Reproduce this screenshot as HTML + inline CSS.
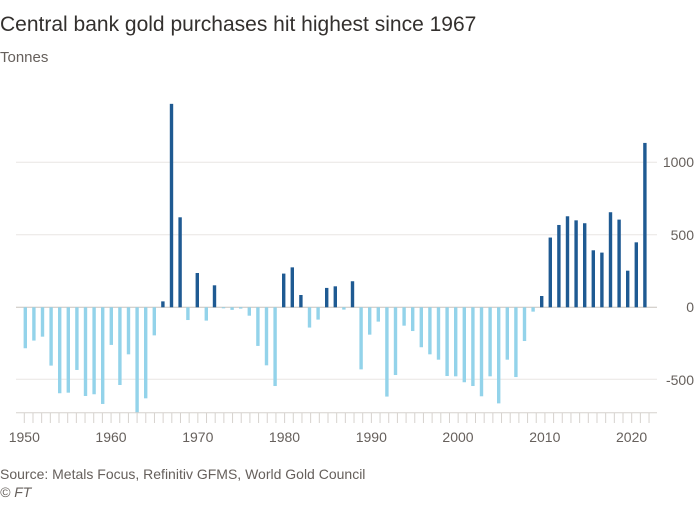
<!DOCTYPE html>
<html><head><meta charset="utf-8"><style>
body{margin:0;background:#fff;width:700px;height:500px;overflow:hidden;font-family:"Liberation Sans",sans-serif}
</style></head><body>
<svg width="700" height="500" xmlns="http://www.w3.org/2000/svg" font-family="Liberation Sans, sans-serif">
<text x="0" y="31" font-size="21" fill="#33302e">Central bank gold purchases hit highest since 1967</text>
<text x="0" y="62" font-size="15" fill="#66605c">Tonnes</text>
<g stroke="#e9e6e3" stroke-width="1">
<line x1="16" x2="657" y1="162.3" y2="162.3"/>
<line x1="16" x2="657" y1="234.7" y2="234.7"/>
<line x1="16" x2="657" y1="379.3" y2="379.3"/>
</g>
<line x1="16" x2="657" y1="307.3" y2="307.3" stroke="#c8c3be" stroke-width="1"/>
<g font-size="14" fill="#66605c" text-anchor="end">
<text x="694" y="167">1000</text>
<text x="694" y="240">500</text>
<text x="694" y="312">0</text>
<text x="694" y="385">-500</text>
</g>
<g fill="#93d3ea">
<rect x="23.6" y="307.3" width="3.4" height="40.95"/>
<rect x="32.2" y="307.3" width="3.4" height="33.28"/>
<rect x="40.8" y="307.3" width="3.4" height="29.37"/>
<rect x="49.4" y="307.3" width="3.4" height="58.31"/>
<rect x="58" y="307.3" width="3.4" height="85.95"/>
<rect x="66.6" y="307.3" width="3.4" height="85.37"/>
<rect x="75.2" y="307.3" width="3.4" height="62.66"/>
<rect x="83.8" y="307.3" width="3.4" height="88.7"/>
<rect x="92.4" y="307.3" width="3.4" height="86.96"/>
<rect x="101" y="307.3" width="3.4" height="96.66"/>
<rect x="109.6" y="307.3" width="3.4" height="37.62"/>
<rect x="118.2" y="307.3" width="3.4" height="77.7"/>
<rect x="126.8" y="307.3" width="3.4" height="47.03"/>
<rect x="135.4" y="307.3" width="3.4" height="105.34"/>
<rect x="144" y="307.3" width="3.4" height="91.02"/>
<rect x="152.6" y="307.3" width="3.4" height="28.07"/>
<rect x="186.2" y="307.3" width="3.4" height="12.73"/>
<rect x="204.6" y="307.3" width="3.4" height="13.31"/>
<rect x="221.8" y="307.3" width="3.4" height="1.01"/>
<rect x="230.4" y="307.3" width="3.4" height="2.6"/>
<rect x="239" y="307.3" width="3.4" height="1.3"/>
<rect x="247.6" y="307.3" width="3.4" height="8.39"/>
<rect x="256.2" y="307.3" width="3.4" height="38.63"/>
<rect x="264.8" y="307.3" width="3.4" height="58.02"/>
<rect x="273.4" y="307.3" width="3.4" height="78.72"/>
<rect x="307.8" y="307.3" width="3.4" height="20.26"/>
<rect x="316.4" y="307.3" width="3.4" height="12.3"/>
<rect x="342.2" y="307.3" width="3.4" height="2.32"/>
<rect x="359.4" y="307.3" width="3.4" height="62.08"/>
<rect x="368" y="307.3" width="3.4" height="27.35"/>
<rect x="376.6" y="307.3" width="3.4" height="14.33"/>
<rect x="385.2" y="307.3" width="3.4" height="89.28"/>
<rect x="393.8" y="307.3" width="3.4" height="67.72"/>
<rect x="402.4" y="307.3" width="3.4" height="18.38"/>
<rect x="411" y="307.3" width="3.4" height="23.73"/>
<rect x="419.6" y="307.3" width="3.4" height="39.94"/>
<rect x="428.2" y="307.3" width="3.4" height="47.03"/>
<rect x="436.8" y="307.3" width="3.4" height="52.38"/>
<rect x="445.4" y="307.3" width="3.4" height="68.73"/>
<rect x="454" y="307.3" width="3.4" height="69.02"/>
<rect x="462.6" y="307.3" width="3.4" height="74.95"/>
<rect x="471.2" y="307.3" width="3.4" height="78.72"/>
<rect x="479.8" y="307.3" width="3.4" height="88.99"/>
<rect x="488.4" y="307.3" width="3.4" height="69.02"/>
<rect x="497" y="307.3" width="3.4" height="96.08"/>
<rect x="505.6" y="307.3" width="3.4" height="52.38"/>
<rect x="514.2" y="307.3" width="3.4" height="69.75"/>
<rect x="522.8" y="307.3" width="3.4" height="33.71"/>
<rect x="531.4" y="307.3" width="3.4" height="4.34"/>
</g>
<g fill="#1f5a92">
<rect x="161.2" y="301.37" width="3.4" height="5.93"/>
<rect x="169.8" y="103.85" width="3.4" height="203.45"/>
<rect x="178.4" y="217.3" width="3.4" height="90"/>
<rect x="195.6" y="273.01" width="3.4" height="34.29"/>
<rect x="212.8" y="285.31" width="3.4" height="21.99"/>
<rect x="282" y="273.59" width="3.4" height="33.71"/>
<rect x="290.6" y="267.36" width="3.4" height="39.94"/>
<rect x="299.2" y="295" width="3.4" height="12.3"/>
<rect x="325" y="287.91" width="3.4" height="19.39"/>
<rect x="333.6" y="286.32" width="3.4" height="20.98"/>
<rect x="350.8" y="281.25" width="3.4" height="26.05"/>
<rect x="540" y="296.01" width="3.4" height="11.29"/>
<rect x="548.6" y="237.55" width="3.4" height="69.75"/>
<rect x="557.2" y="224.97" width="3.4" height="82.33"/>
<rect x="565.8" y="216.28" width="3.4" height="91.02"/>
<rect x="574.4" y="220.34" width="3.4" height="86.96"/>
<rect x="583" y="223.23" width="3.4" height="84.07"/>
<rect x="591.6" y="250.29" width="3.4" height="57.01"/>
<rect x="600.2" y="252.6" width="3.4" height="54.7"/>
<rect x="608.8" y="212.23" width="3.4" height="95.07"/>
<rect x="617.4" y="219.61" width="3.4" height="87.69"/>
<rect x="626" y="270.69" width="3.4" height="36.61"/>
<rect x="634.6" y="242.33" width="3.4" height="64.97"/>
<rect x="643.2" y="142.92" width="3.4" height="164.38"/>
</g>
<line x1="16" x2="657" y1="412.7" y2="412.7" stroke="#d6d2ce"/>
<path stroke="#d6d2ce" fill="none" d="M24.3 413V423M32.98 413V423M41.65 413V423M50.33 413V423M59.01 413V423M67.69 413V423M76.36 413V423M85.04 413V423M93.72 413V423M102.39 413V423M111.07 413V423M119.75 413V423M128.42 413V423M137.1 413V423M145.78 413V423M154.46 413V423M163.13 413V423M171.81 413V423M180.49 413V423M189.16 413V423M197.84 413V423M206.52 413V423M215.19 413V423M223.87 413V423M232.55 413V423M241.23 413V423M249.9 413V423M258.58 413V423M267.26 413V423M275.93 413V423M284.61 413V423M293.29 413V423M301.96 413V423M310.64 413V423M319.32 413V423M328 413V423M336.67 413V423M345.35 413V423M354.03 413V423M362.7 413V423M371.38 413V423M380.06 413V423M388.73 413V423M397.41 413V423M406.09 413V423M414.77 413V423M423.44 413V423M432.12 413V423M440.8 413V423M449.47 413V423M458.15 413V423M466.83 413V423M475.5 413V423M484.18 413V423M492.86 413V423M501.54 413V423M510.21 413V423M518.89 413V423M527.57 413V423M536.24 413V423M544.92 413V423M553.6 413V423M562.27 413V423M570.95 413V423M579.63 413V423M588.31 413V423M596.98 413V423M605.66 413V423M614.34 413V423M623.01 413V423M631.69 413V423M640.37 413V423M649.04 413V423"/>
<g font-size="14" fill="#66605c" text-anchor="middle">
<text x="24.3" y="442">1950</text>
<text x="111" y="442">1960</text>
<text x="197.8" y="442">1970</text>
<text x="284.5" y="442">1980</text>
<text x="371.3" y="442">1990</text>
<text x="458" y="442">2000</text>
<text x="544.8" y="442">2010</text>
<text x="631.6" y="442">2020</text>
</g>
<text x="0" y="479" font-size="14" fill="#66605c">Source: Metals Focus, Refinitiv GFMS, World Gold Council</text>
<text x="0" y="497" font-size="14" font-style="italic" fill="#66605c">© FT</text>
</svg>
</body></html>
